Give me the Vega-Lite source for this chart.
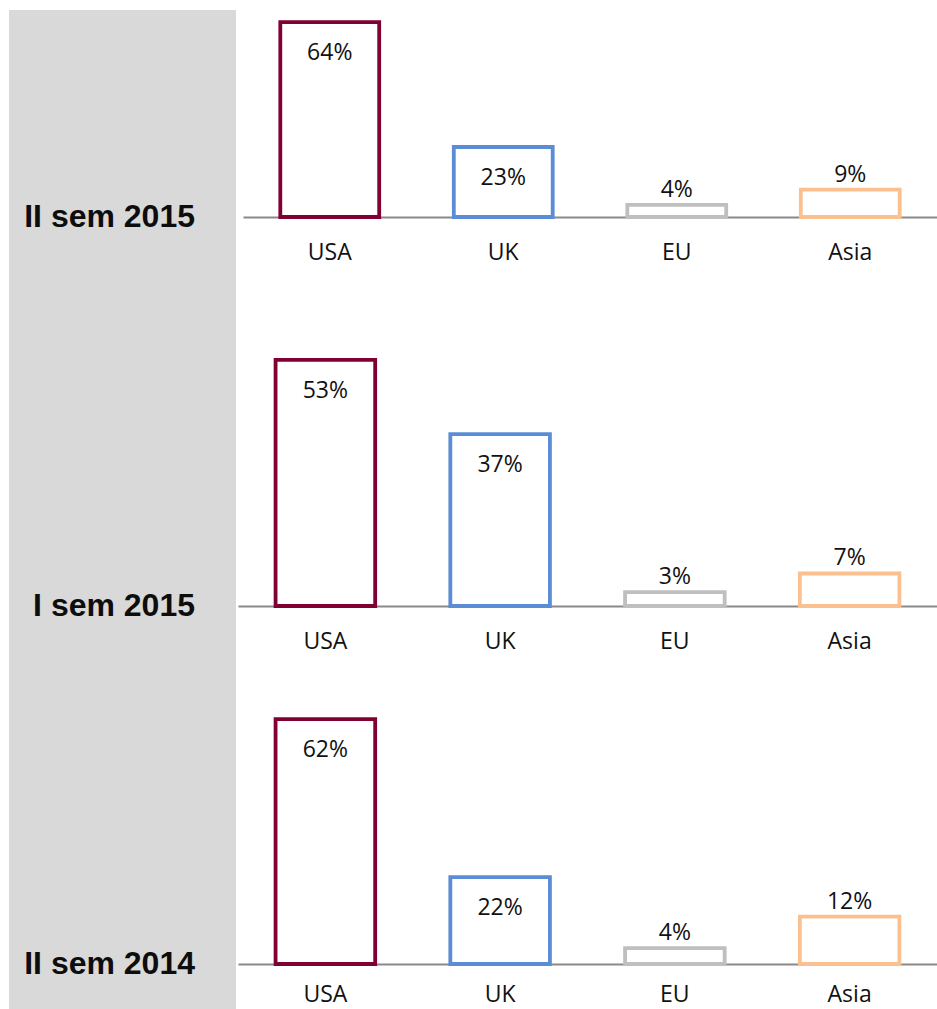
{
  "$schema": "https://vega.github.io/schema/vega-lite/v6.json",
  "padding": {"left": 9, "top": 10, "right": 0, "bottom": 0},
  "background": "white",
  "config": {"view": {"stroke": null}},
  "data": {"values": [
    {"period": "II sem 2015", "country": "USA", "value": 0.64},
    {"period": "II sem 2015", "country": "UK", "value": 0.23},
    {"period": "II sem 2015", "country": "EU", "value": 0.04},
    {"period": "II sem 2015", "country": "Asia", "value": 0.09},
    {"period": "I sem 2015", "country": "USA", "value": 0.53},
    {"period": "I sem 2015", "country": "UK", "value": 0.37},
    {"period": "I sem 2015", "country": "EU", "value": 0.03},
    {"period": "I sem 2015", "country": "Asia", "value": 0.07},
    {"period": "II sem 2014", "country": "USA", "value": 0.62},
    {"period": "II sem 2014", "country": "UK", "value": 0.22},
    {"period": "II sem 2014", "country": "EU", "value": 0.04},
    {"period": "II sem 2014", "country": "Asia", "value": 0.12}
  ]},
  "spacing": 0,
  "vconcat": [
    {
      "spacing": 7,
      "hconcat": [
        {
          "width": 227, "height": 257,
          "view": {"fill": "#D9D9D9", "stroke": null},
          "transform": [{"filter": "datum.period === 'II sem 2015' && datum.country === 'USA'"}],
          "mark": {"type": "text", "font": "Liberation Sans", "fontWeight": "bold", "fontSize": 32, "align": "right", "baseline": "middle", "dx": -41, "color": "#0d0d0d"},
          "encoding": {
            "x": {"value": "width"},
            "y": {"datum": 0, "type": "quantitative", "scale": {"domain": [-0.1643, 0.68], "nice": false, "zero": false}, "axis": null},
            "text": {"field": "period"}
          }
        },
        {
          "width": 694, "height": 207,
          "transform": [{"filter": "datum.period === 'II sem 2015'"}],
          "encoding": {
            "x": {"field": "country", "type": "nominal", "sort": ["USA", "UK", "EU", "Asia"],
              "scale": {"paddingInner": 0.43, "paddingOuter": 0.215},
              "axis": {"title": null, "ticks": false, "tickSize": 0, "labelPadding": 24, "labelFont": "Open Sans", "labelFontSize": 23, "labelColor": "#111111", "labelAngle": 0, "domainColor": "#898989", "domainWidth": 2, "grid": false, "minExtent": 50, "maxExtent": 50}},
            "y": {"field": "value", "type": "quantitative", "scale": {"domain": [0, 0.68], "nice": false}, "axis": null}
          },
          "layer": [
            {"mark": {"type": "bar", "fill": "white", "strokeWidth": 3.8},
             "encoding": {"stroke": {"field": "country", "type": "nominal", "scale": {"domain": ["USA", "UK", "EU", "Asia"], "range": ["#800034", "#5B8DD6", "#BFBFBF", "#FAC08F"]}, "legend": null}}},
            {"transform": [{"filter": "datum.value >= 0.2"}],
             "mark": {"type": "text", "font": "Open Sans", "fontSize": 23, "color": "#111111", "baseline": "top", "dy": 20},
             "encoding": {"text": {"field": "value", "type": "quantitative", "format": ".0%"}}},
            {"transform": [{"filter": "datum.value < 0.2"}],
             "mark": {"type": "text", "font": "Open Sans", "fontSize": 23, "color": "#111111", "baseline": "alphabetic", "dy": -8},
             "encoding": {"text": {"field": "value", "type": "quantitative", "format": ".0%"}}}
          ]
        }
      ]
    },
    {
      "spacing": 2,
      "hconcat": [
        {
          "width": 227, "height": 389,
          "view": {"fill": "#D9D9D9", "stroke": null},
          "transform": [{"filter": "datum.period === 'I sem 2015' && datum.country === 'USA'"}],
          "mark": {"type": "text", "font": "Liberation Sans", "fontWeight": "bold", "fontSize": 32, "align": "right", "baseline": "middle", "dx": -41, "color": "#0d0d0d"},
          "encoding": {
            "x": {"value": "width"},
            "y": {"datum": 0, "type": "quantitative", "scale": {"domain": [-0.1077, 0.73], "nice": false, "zero": false}, "axis": null},
            "text": {"field": "period"}
          }
        },
        {
          "width": 699, "height": 339,
          "transform": [{"filter": "datum.period === 'I sem 2015'"}],
          "encoding": {
            "x": {"field": "country", "type": "nominal", "sort": ["USA", "UK", "EU", "Asia"],
              "scale": {"paddingInner": 0.43, "paddingOuter": 0.215},
              "axis": {"title": null, "ticks": false, "tickSize": 0, "labelPadding": 24, "labelFont": "Open Sans", "labelFontSize": 23, "labelColor": "#111111", "labelAngle": 0, "domainColor": "#898989", "domainWidth": 2, "grid": false, "minExtent": 50, "maxExtent": 50}},
            "y": {"field": "value", "type": "quantitative", "scale": {"domain": [0, 0.73], "nice": false}, "axis": null}
          },
          "layer": [
            {"mark": {"type": "bar", "fill": "white", "strokeWidth": 3.8},
             "encoding": {"stroke": {"field": "country", "type": "nominal", "scale": {"domain": ["USA", "UK", "EU", "Asia"], "range": ["#800034", "#5B8DD6", "#BFBFBF", "#FAC08F"]}, "legend": null}}},
            {"transform": [{"filter": "datum.value >= 0.2"}],
             "mark": {"type": "text", "font": "Open Sans", "fontSize": 23, "color": "#111111", "baseline": "top", "dy": 20},
             "encoding": {"text": {"field": "value", "type": "quantitative", "format": ".0%"}}},
            {"transform": [{"filter": "datum.value < 0.2"}],
             "mark": {"type": "text", "font": "Open Sans", "fontSize": 23, "color": "#111111", "baseline": "alphabetic", "dy": -8},
             "encoding": {"text": {"field": "value", "type": "quantitative", "format": ".0%"}}}
          ]
        }
      ]
    },
    {
      "spacing": 2,
      "hconcat": [
        {
          "width": 227, "height": 353,
          "view": {"fill": "#D9D9D9", "stroke": null},
          "transform": [{"filter": "datum.period === 'II sem 2014' && datum.country === 'USA'"}],
          "mark": {"type": "text", "font": "Liberation Sans", "fontWeight": "bold", "fontSize": 32, "align": "right", "baseline": "middle", "dx": -41, "color": "#0d0d0d"},
          "encoding": {
            "x": {"value": "width"},
            "y": {"datum": 0, "type": "quantitative", "scale": {"domain": [-0.114, 0.78], "nice": false, "zero": false}, "axis": null},
            "text": {"field": "period"}
          }
        },
        {
          "width": 699, "height": 308,
          "transform": [{"filter": "datum.period === 'II sem 2014'"}],
          "encoding": {
            "x": {"field": "country", "type": "nominal", "sort": ["USA", "UK", "EU", "Asia"],
              "scale": {"paddingInner": 0.43, "paddingOuter": 0.215},
              "axis": {"title": null, "ticks": false, "tickSize": 0, "labelPadding": 19, "labelFont": "Open Sans", "labelFontSize": 23, "labelColor": "#111111", "labelAngle": 0, "domainColor": "#898989", "domainWidth": 2, "grid": false, "minExtent": 45, "maxExtent": 45}},
            "y": {"field": "value", "type": "quantitative", "scale": {"domain": [0, 0.78], "nice": false}, "axis": null}
          },
          "layer": [
            {"mark": {"type": "bar", "fill": "white", "strokeWidth": 3.8},
             "encoding": {"stroke": {"field": "country", "type": "nominal", "scale": {"domain": ["USA", "UK", "EU", "Asia"], "range": ["#800034", "#5B8DD6", "#BFBFBF", "#FAC08F"]}, "legend": null}}},
            {"transform": [{"filter": "datum.value >= 0.2"}],
             "mark": {"type": "text", "font": "Open Sans", "fontSize": 23, "color": "#111111", "baseline": "top", "dy": 20},
             "encoding": {"text": {"field": "value", "type": "quantitative", "format": ".0%"}}},
            {"transform": [{"filter": "datum.value < 0.2"}],
             "mark": {"type": "text", "font": "Open Sans", "fontSize": 23, "color": "#111111", "baseline": "alphabetic", "dy": -8},
             "encoding": {"text": {"field": "value", "type": "quantitative", "format": ".0%"}}}
          ]
        }
      ]
    }
  ]
}
